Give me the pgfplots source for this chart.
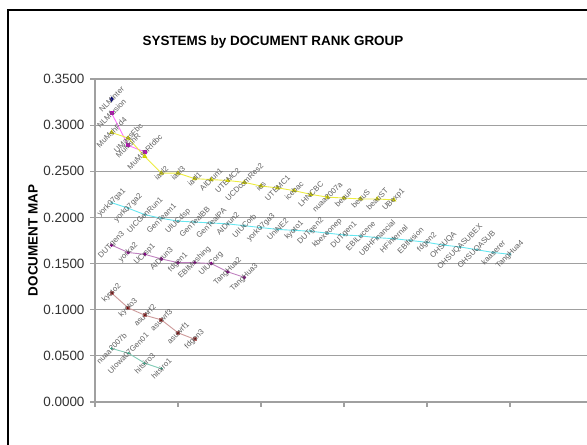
\documentclass[border=0pt]{standalone}
\usepackage{fontspec}
\setmainfont{Liberation Sans}
\usepackage{pgfplots}
\usepackage{pgfplotstable}
\pgfplotsset{compat=1.18}

\definecolor{sNavy}{HTML}{000080}
\definecolor{sMag}{HTML}{FF00FF}
\definecolor{sYel}{HTML}{E6E600}
\definecolor{sCyan}{HTML}{66E6F0}
\definecolor{sPurp}{HTML}{800080}
\definecolor{sRed}{HTML}{800000}
\definecolor{sTeal}{HTML}{40B090}
\definecolor{gridgray}{HTML}{A0A0A0}
\definecolor{labgray}{HTML}{606060}

% one table per rank group
\pgfplotstableread{
x y lab
1 0.328 NLMinter
}\grpA
\pgfplotstableread{
x y lab
1 0.313 NLMfusion
2 0.278 MuMshR
3 0.271 MuMshRfdbc
}\grpB
\pgfplotstableread{
x y lab
1 0.292 MuMshFd4
2 0.286 UMassFbc
3 0.266 {}
4 0.248 iasl2
5 0.248 iasl3
6 0.242 iasl1
7 0.241 AIDrun1
8 0.240 UTEMC2
9 0.238 UCDcomRes2
10 0.234 ies
11 0.232 UTEMC1
12 0.229 icebac
13 0.225 LHNCBC
14 0.222 nuaa2007a
15 0.221 beauP
16 0.220 beauS
17 0.220 beauST
18 0.219 UBexp1
}\grpC
\pgfplotstableread{
x y lab
1 0.216 york07ga1
2 0.210 york07ga2
3 0.203 UICGenRun1
4 0.199 GenTeam1
5 0.196 UIUCdsp
6 0.195 GenTealBB
7 0.194 GenTealPA
8 0.193 AIDrun2
9 0.191 UIUCorb
10 0.189 york07ga3
11 0.187 UniNE2
12 0.186 kyoto1
13 0.185 DUTgen2
14 0.183 kbexeonep
15 0.181 DUTgen1
16 0.180 EBILucene
17 0.178 UBHFinancial
18 0.177 HFinternal
19 0.175 EBIfusion
20 0.173 fdgen2
21 0.170 OHSUQA
22 0.168 OHSUQASUBEX
23 0.165 OHSUQASUB
24 0.162 kaaserer
25 0.160 TangHua4
}\grpD
\pgfplotstableread{
x y lab
1 0.170 DUTgen3
2 0.162 yorka2
3 0.160 UCrsp1
4 0.155 AIDrun3
5 0.151 fdgen1
6 0.151 EBIMeshing
7 0.150 UIUCorg
8 0.141 TangHua2
9 0.135 TangHua3
}\grpE
\pgfplotstableread{
x y lab
1 0.118 kyoto2
2 0.102 kyoto3
3 0.094 asuwrf2
4 0.089 asuwrf3
5 0.075 asuwrf1
6 0.068 fdgen3
}\grpF
\pgfplotstableread{
x y lab
1 0.058 nuaa2007b
2 0.053 UIowa07Gen01
3 0.042 hitsiro3
4 0.036 hitsiro1
}\grpG

\begin{document}
\begin{tikzpicture}[x=1bp,y=1bp]
\useasboundingbox (0,0) rectangle (587,445);
% chart frame
\draw[line width=2bp,black] (8,0) -- (8,435) -- (590,435);
\node[font=\bfseries\fontsize{13.5}{16}\selectfont] at (273,403) {SYSTEMS by DOCUMENT RANK GROUP};
\begin{axis}[
  at={(95bp,43bp)}, anchor=south west,
  scale only axis, width=492bp, height=323bp,
  xmin=0, xmax=29.64, ymin=0, ymax=0.35,
  axis x line*=bottom, axis y line*=left,
  axis line style={-, gridgray, line width=1.2bp},
  xtick={0,5,10,15,20,25}, xticklabels={},
  ytick={0,0.05,0.10,0.15,0.20,0.25,0.30,0.35},
  ymajorgrids, grid style={gridgray, line width=1.1bp},
  tick align=outside, major tick length=5bp,
  tick style={gridgray, line width=1.1bp},
  scaled y ticks=false,
  yticklabel style={/pgf/number format/.cd, fixed, fixed zerofill, precision=4, assume math mode=true,
    /tikz/.cd, font=\fontsize{13.5}{16}\selectfont, text=black!80, xshift=-2bp},
  ylabel={DOCUMENT MAP},
  every axis y label/.style={at={(rel axis cs:0,0.5)}, xshift=-62bp, rotate=90, anchor=center,
    font=\bfseries\fontsize{13.5}{16}\selectfont},
  clip=false,
  every axis plot/.append style={line width=0.9bp, mark size=2bp},
  nodes near coords, point meta=explicit symbolic,
  every node near coord/.style={rotate=45, anchor=center, inner sep=0pt,
    font=\fontsize{7.8}{8}\selectfont, text=labgray},
]
\addplot[color=sNavy, mark=diamond*, mark options={fill=sNavy}] table[x=x,y=y,meta=lab]{\grpA};
\addplot[color=sMag!55, mark=square*, mark options={fill=sMag!80!black, draw=sMag!80!black, scale=0.75}] table[x=x,y=y,meta=lab]{\grpB};
\addplot[color=sYel!75, mark=triangle*, mark options={fill=sYel, draw=sYel!90!black}] table[x=x,y=y,meta=lab]{\grpC};
\addplot[color=sCyan, mark=x, mark options={draw=sCyan!80!black, scale=0.7}] table[x=x,y=y,meta=lab]{\grpD};
\addplot[color=sPurp!50, mark=*, mark options={fill=sPurp, draw=sPurp, scale=0.65}] table[x=x,y=y,meta=lab]{\grpE};
\addplot[color=sRed!40!white, mark=square*, mark options={fill=sRed, draw=sRed!60, scale=0.75}] table[x=x,y=y,meta=lab]{\grpF};
\addplot[color=sTeal!65, mark=+, mark options={draw=sTeal, scale=0.7}] table[x=x,y=y,meta=lab]{\grpG};
\end{axis}
\end{tikzpicture}
\end{document}
